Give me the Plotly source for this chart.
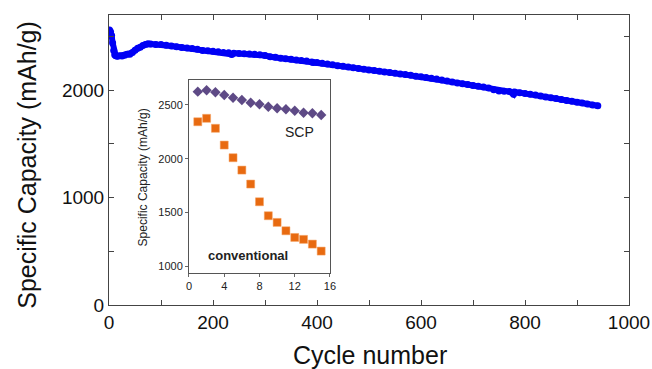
import plotly.graph_objects as go

# Main series: cycle number vs specific capacity (mAh/g)
cycles = [1, 3, 5, 7, 9, 11, 13, 16, 20, 25, 30, 35, 40, 45, 50, 55, 60, 65, 70, 75, 80, 90,
          100, 110, 120, 130, 140, 150, 160, 170, 180, 190, 200, 210, 220, 230, 236, 240, 250,
          260, 270, 280, 290, 300, 310, 320, 330, 340, 350, 360, 370, 380, 390, 393, 400, 410,
          420, 430, 440, 450, 460, 470, 480, 490, 500, 510, 520, 530, 540, 550, 560, 570, 580,
          590, 600, 610, 620, 630, 640, 650, 660, 670, 680, 690, 700, 710, 720, 730, 740, 750,
          760, 770, 778, 780, 790, 800, 810, 820, 830, 840, 850, 860, 870, 880, 890, 900, 910,
          920, 930, 940]
capacity = [2560, 2545, 2510, 2440, 2370, 2330, 2320, 2315, 2320, 2318, 2325, 2335, 2335, 2350,
            2372, 2390, 2400, 2415, 2425, 2432, 2430, 2426, 2425, 2418, 2412, 2405, 2398, 2392,
            2388, 2380, 2370, 2366, 2362, 2358, 2352, 2348, 2333, 2345, 2342, 2340, 2337, 2335,
            2330, 2322, 2312, 2306, 2298, 2292, 2287, 2282, 2276, 2272, 2262, 2257, 2258, 2250,
            2243, 2236, 2228, 2222, 2216, 2210, 2203, 2196, 2189, 2183, 2177, 2170, 2164, 2158,
            2151, 2146, 2138, 2130, 2124, 2117, 2110, 2103, 2094, 2085, 2077, 2068, 2060, 2052,
            2044, 2037, 2030, 2020, 2005, 1993, 1990, 1987, 1962, 1983, 1977, 1970, 1962, 1955,
            1946, 1937, 1930, 1922, 1913, 1904, 1896, 1888, 1880, 1872, 1863, 1855]

# Inset series
inset_cycles = [1, 2, 3, 4, 5, 6, 7, 8, 9, 10, 11, 12, 13, 14, 15]
scp = [2624, 2637, 2618, 2593, 2568, 2547, 2521, 2507, 2484, 2469, 2460, 2447, 2428, 2423, 2407]
conventional = [2344, 2376, 2283, 2127, 2009, 1894, 1764, 1599, 1469, 1407, 1329, 1267, 1249,
                1205, 1140]

main_xticks = [0, 200, 400, 600, 800, 1000]
main_yticks = [0, 1000, 2000]
inset_xticks = [0, 4, 8, 12, 16]
inset_yticks = [1000, 1500, 2000, 2500]

FONT = "Liberation Sans, Arial, sans-serif"
NARROW = "Liberation Sans Narrow, Liberation Sans, Arial, sans-serif"
AX = "#444444"

fig = go.Figure()
fig.add_trace(go.Scatter(
    x=cycles, y=capacity, mode="lines+markers",
    line=dict(color="#0000F5", width=6),
    marker=dict(color="#0000F5", size=7),
    xaxis="x", yaxis="y", showlegend=False))
fig.add_trace(go.Scatter(
    x=inset_cycles, y=scp, mode="markers",
    marker=dict(symbol="diamond", color="#5E4A86", size=8),
    xaxis="x2", yaxis="y2", showlegend=False))
fig.add_trace(go.Scatter(
    x=inset_cycles, y=conventional, mode="markers",
    marker=dict(symbol="square", color="#E86A10", size=8,
                line=dict(color="#F4A060", width=0.5)),
    xaxis="x2", yaxis="y2", showlegend=False))

fig.update_layout(
    width=652, height=369,
    margin=dict(l=109, r=23, t=15, b=64),
    paper_bgcolor="white", plot_bgcolor="white",
    font=dict(family=FONT, color="#111111"),
    xaxis=dict(range=[0, 1000], tickvals=main_xticks, ticks="inside", ticklen=5,
               tickcolor=AX, showline=True, linecolor=AX, linewidth=1, mirror="ticks",
               showgrid=False, zeroline=False, automargin=False,
               tickfont=dict(size=19, color="#111111"),
               minor=dict(dtick=100, ticks="inside", ticklen=5, tickcolor=AX, showgrid=False)),
    yaxis=dict(range=[0, 2700], tickvals=main_yticks, ticks="inside", ticklen=5,
               tickcolor=AX, showline=True, linecolor=AX, linewidth=1, mirror="ticks",
               showgrid=False, zeroline=False, automargin=False,
               tickfont=dict(size=19, color="#111111"),
               minor=dict(dtick=500, ticks="inside", ticklen=5, tickcolor=AX, showgrid=False)),
    xaxis2=dict(domain=[0.1538, 0.425], anchor="y2", range=[0, 16], tickvals=inset_xticks,
                ticks="outside", ticklen=3, tickcolor="#666666", showline=True,
                linecolor="#555555", linewidth=1, mirror=True, showgrid=False, zeroline=False,
                automargin=False,
                tickfont=dict(size=11, family=NARROW, color="#222222")),
    yaxis2=dict(domain=[0.11, 0.776], anchor="x2", range=[935, 2733], tickvals=inset_yticks,
                ticks="outside", ticklen=3, tickcolor="#666666", showline=True,
                linecolor="#555555", linewidth=1, mirror=True, showgrid=False, zeroline=False,
                automargin=False,
                tickfont=dict(size=11, family=NARROW, color="#222222")),
    annotations=[
        dict(text="Cycle number", xref="paper", yref="paper", x=0.502, y=-0.172,
             xanchor="center", yanchor="middle", showarrow=False,
             font=dict(size=25, family=FONT, color="#111111")),
        dict(text="Specific Capacity (mAh/g)", xref="paper", yref="paper", x=-0.158, y=0.483,
             xanchor="center", yanchor="middle", textangle=-90, showarrow=False,
             font=dict(size=25, family=FONT, color="#111111")),
        dict(text="Specific Capacity (mAh/g)", xref="paper", yref="paper", x=0.0654, y=0.44,
             xanchor="center", yanchor="middle", textangle=-90, showarrow=False,
             font=dict(size=12, family=NARROW, color="#222222")),
        dict(text="SCP", xref="paper", yref="paper", x=0.367, y=0.597,
             xanchor="center", yanchor="middle", showarrow=False,
             font=dict(size=14, family=FONT, color="#222222")),
        dict(text="<b>conventional</b>", xref="paper", yref="paper", x=0.267, y=0.172,
             xanchor="center", yanchor="middle", showarrow=False,
             font=dict(size=13, family=FONT, color="#222222")),
    ],
)

fig.write_html("out.html", config={"displayModeBar": False},
               post_script="document.body.style.margin='0px';document.body.style.overflow='hidden';")
